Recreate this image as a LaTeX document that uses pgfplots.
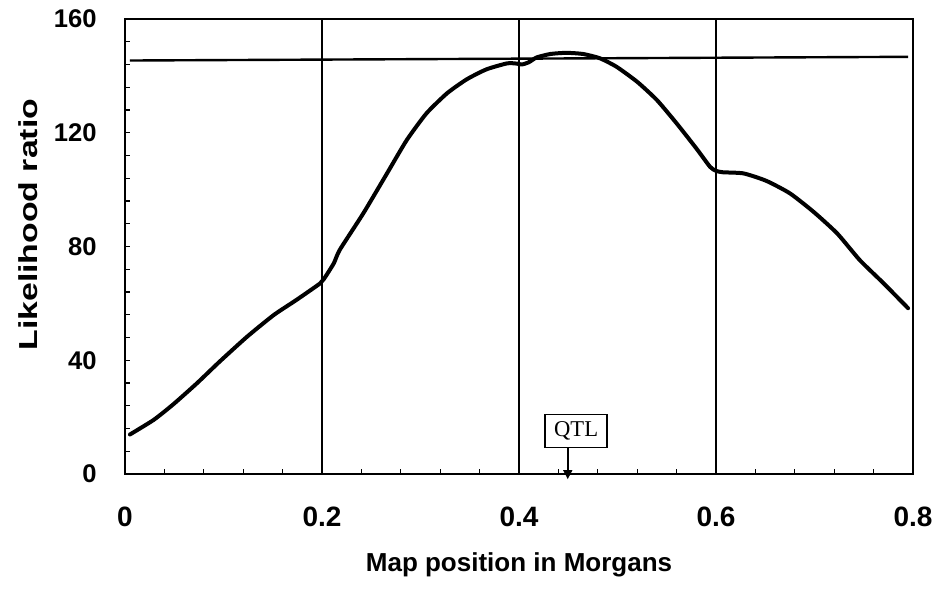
\documentclass[border=0pt]{standalone}
\usepackage{pgfplots}
\pgfplotsset{compat=1.18}
\usepackage{fontspec}
\setmainfont{Liberation Sans}
\newfontfamily\seriffont{Liberation Serif}
\usepackage{graphicx}
\usetikzlibrary{arrows.meta}
\begin{document}
\begin{tikzpicture}
\begin{axis}[
  scale only axis, width=394pt, height=227.5pt,
  xmin=0, xmax=0.8, ymin=0, ymax=160,
  xtick={0,0.2,0.4,0.6,0.8}, ytick={0,40,80,120,160},
  xticklabels={0,0.2,0.4,0.6,0.8}, yticklabels={0,40,80,120,160},
  minor x tick num=4, minor y tick num=4,
  tick pos=left, tick align=inside,
  major tick length=2.5pt, minor tick length=2.5pt,
  every tick/.style={black, line width=0.6pt},
  xticklabel style={font=\fontsize{14}{14}\selectfont\bfseries, inner sep=0pt, yshift=-16.3pt},
  yticklabel style={font=\fontsize{12.8}{12.8}\selectfont\bfseries, inner sep=0pt, xshift=-14pt},
  axis line style={line width=0.8pt},
  xmajorgrids, grid style={black, line width=0.6pt},
  clip=false,
]
\addplot[black, line width=1.2pt] coordinates {(0.005,145.4) (0.795,146.7)};
\addplot[black, line width=2pt, line join=round, line cap=round, smooth, tension=0.35] coordinates {
(0.005,13.9) (0.029,19.0) (0.049,24.5) (0.073,31.9) (0.096,39.5) (0.124,48.3)
(0.151,55.9) (0.174,61.2) (0.198,67.0) (0.202,68.6) (0.212,74.1) (0.218,78.8)
(0.242,91.7) (0.266,105.7) (0.286,117.4) (0.306,126.8) (0.327,133.9) (0.347,138.8)
(0.367,142.3) (0.388,144.4) (0.398,144.3) (0.403,144.0) (0.410,144.8) (0.418,146.5)
(0.432,147.7) (0.448,148.1) (0.465,147.7) (0.482,146.2) (0.499,143.2) (0.520,137.9)
(0.540,131.5) (0.560,123.3) (0.580,114.5) (0.594,108.0) (0.600,106.6) (0.607,106.1)
(0.628,105.7) (0.651,103.1) (0.675,98.7) (0.699,92.2) (0.723,84.6) (0.746,75.2)
(0.770,67.1) (0.795,58.3)
};
\node[draw, line width=0.8pt, minimum width=31pt, minimum height=16.5pt, inner sep=0pt,
      font=\seriffont\fontsize{11.3}{11.3}\selectfont] at (axis cs:0.458,15.1) {QTL};
\draw[line width=0.8pt, -{Triangle[width=4.5pt,length=4.5pt]}] (axis cs:0.4495,9.2) -- (axis cs:0.4495,-1.8);
\node[rotate=90, inner sep=0pt, font=\fontsize{13}{13}\selectfont\bfseries]
  at ([xshift=-48.5pt]rel axis cs:0,0.548) {\scalebox{1.3}[1]{Likelihood ratio}};
\node[anchor=base, inner sep=0pt, font=\fontsize{13}{13}\selectfont\bfseries]
  at ([yshift=-48.5pt]rel axis cs:0.5,0) {Map position in Morgans};
\coordinate (ll) at (rel axis cs:0,0);
\coordinate (ur) at (rel axis cs:1,1);
\end{axis}
\path ([shift={(-62.5pt,-57pt)}]ll) rectangle ([shift={(12pt,9.5pt)}]ur);
\end{tikzpicture}
\end{document}
